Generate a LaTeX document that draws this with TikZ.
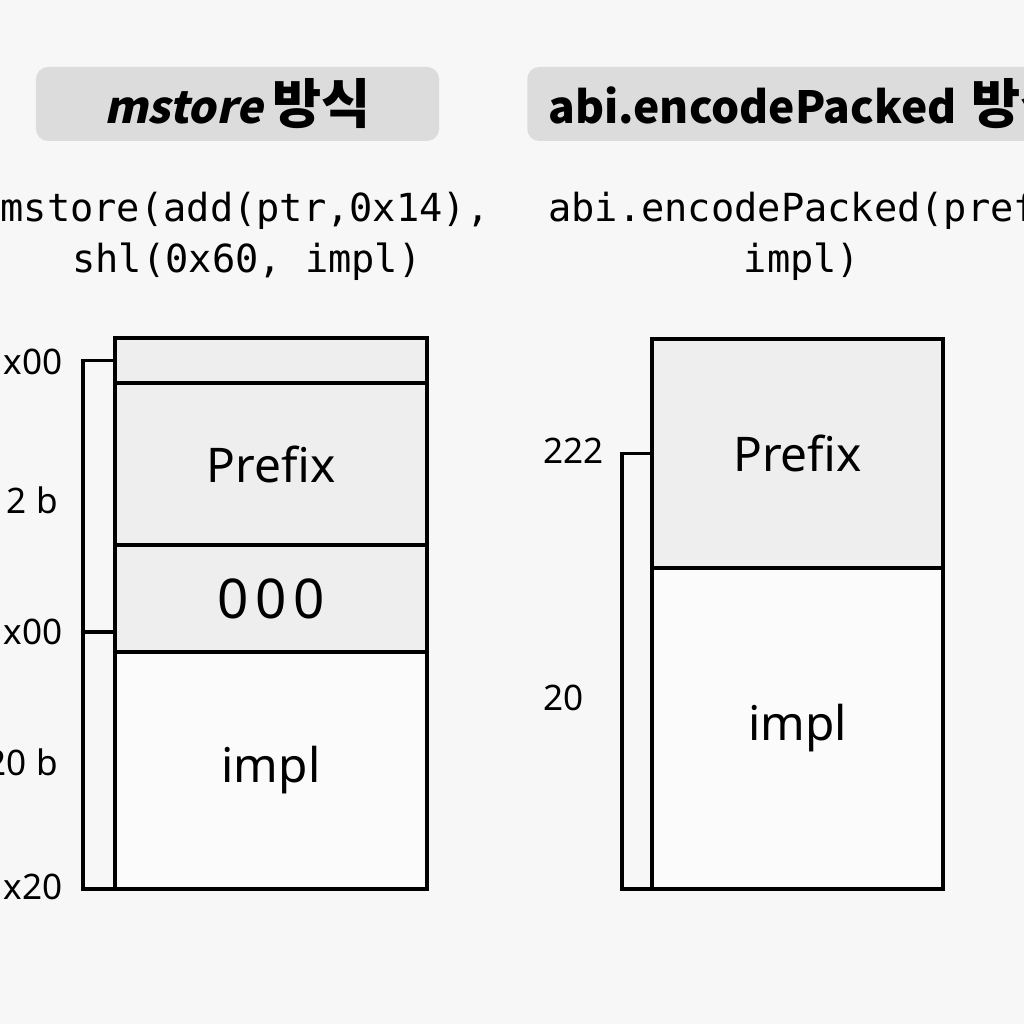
\documentclass[tikz,border=0pt]{standalone}
\usepackage{fontspec}
\setmainfont{Noto Sans}
\setmonofont{DejaVu Sans Mono}
\newfontfamily\titlefont{Noto Sans CJK KR}
\newfontfamily\titleslant{Noto Sans CJK KR}[FakeSlant=0.22]
\newcommand\hangul[1]{{\fontsize{38}{40}\selectfont #1}}
\usetikzlibrary{positioning}
\definecolor{pagebg}{RGB}{247,247,247}
\definecolor{titlegray}{RGB}{220,220,220}
\definecolor{cellgray}{RGB}{238,238,238}
\definecolor{cellwhite}{RGB}{251,251,251}
\tikzset{
  titlebox/.style={fill=titlegray,rounded corners=3mm,inner sep=0pt,
    minimum height=18.5mm,font=\titlefont\fontsize{31.5}{36}\selectfont\bfseries},
  code/.style={inner sep=0pt,font=\ttfamily\fontsize{27.5}{30}\selectfont},
  cell/.style={draw=black,line width=0.85mm,outer sep=0pt,inner sep=0pt,
    font=\fontsize{34}{40}\selectfont},
  bracket/.style={draw=black,line width=0.85mm},
  addr/.style={inner sep=0pt,font=\fontsize{25}{30}\selectfont}
}
\begin{document}
\begin{tikzpicture}[x=0.25mm,y=-0.25mm]
  \useasboundingbox (0,0) rectangle (1024,1024);
  \clip (0,0) rectangle (1024,1024);
  \fill[pagebg] (0,0) rectangle (1024,1024);
  % titles
  \node[titlebox,minimum width=100.75mm] (mtitle) at (237.5,104)
    {{\titleslant\bfseries mstore} \hangul{방식}};
  \node[titlebox,anchor=west,text width=150mm,align=left,inner xsep=5.25mm] (ptitle)
    at (527,104) {abi.encodePacked \hangul{방식}};
  % code lines
  \node[code,anchor=base] (mcode1) at (245,222) {mstore(add(ptr,0x14),};
  \node[code,anchor=base] (mcode2) at (247,273) {shl(0x60, impl)};
  \node[code,anchor=base west] (pcode1) at (548,222) {abi.encodePacked(prefix,};
  \node[code,anchor=base] (pcode2) at (802,273) {impl)};
  % mstore layout
  \node[cell,fill=cellgray,minimum width=78mm,minimum height=11.25mm] (mhead) at (271,360.5) {};
  \node[cell,fill=cellgray,minimum width=78mm,minimum height=40.5mm,below=0pt of mhead] (mprefix) {Prefix};
  \node[cell,fill=cellgray,minimum width=78mm,minimum height=26.75mm,below=0pt of mprefix,
    font=\fontsize{39}{42}\selectfont\addfontfeature{LetterSpace=12}] (mzero) {000};
  \node[cell,fill=cellwhite,minimum width=78mm,minimum height=59.25mm,below=0pt of mzero]
    (mimpl) {\raisebox{-3mm}{impl}};
  \coordinate (mmid) at (115,632);
  \draw[bracket] (mhead.west) -- ++(-32,0) coordinate (mbar)
    -- (mbar |- mimpl.south west) -- (mimpl.south west);
  \draw[bracket] (mmid) -- (mmid -| mbar);
  \node[addr,anchor=east] (ma0) at (63,362) {x00};
  \node[addr,anchor=east] (ma1) at (58,500) {2 b};
  \node[addr,anchor=east] (ma2) at (63,632) {x00};
  \node[addr,anchor=east] (ma3) at (58,762) {20 b};
  \node[addr,anchor=east] (ma4) at (63,887) {x20};
  % abi.encodePacked layout
  \node[cell,fill=cellgray,minimum width=72.75mm,minimum height=57.25mm] (pprefix) at (797.5,453.5) {Prefix};
  \node[cell,fill=cellwhite,minimum width=72.75mm,minimum height=80.25mm,below=0pt of pprefix]
    (pimpl) {\raisebox{-2.5mm}{impl}};
  \draw[bracket] (pprefix.west) -- ++(-30,0) coordinate (pbar)
    -- (pbar |- pimpl.south west) -- (pimpl.south west);
  \node[addr,anchor=east] (pa0) at (604,451) {222};
  \node[addr,anchor=west] (pa1) at (543,698) {20};
\end{tikzpicture}
\end{document}
